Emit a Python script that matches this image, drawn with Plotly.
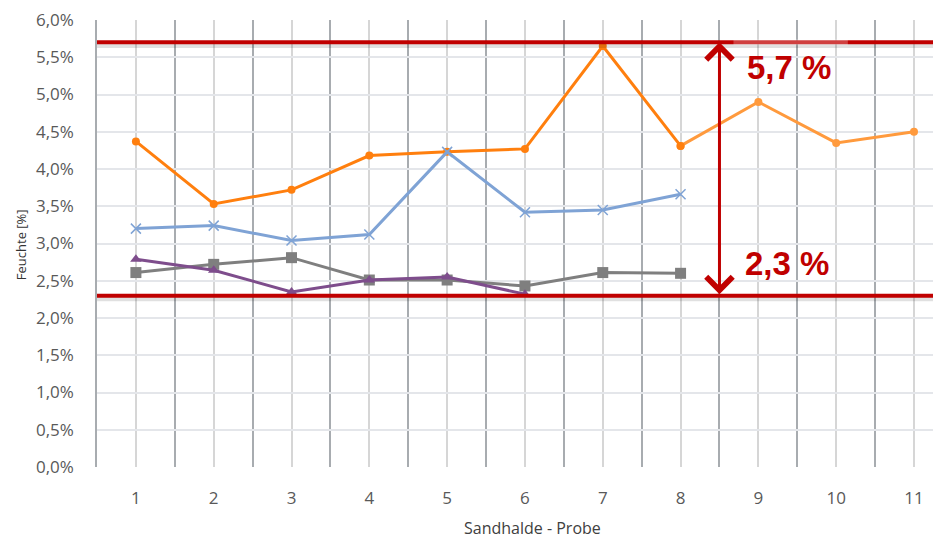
import plotly.graph_objects as go

# ---- data ----
proben = [1, 2, 3, 4, 5, 6, 7, 8, 9, 10, 11]
orange_x = [1, 2, 3, 4, 5, 6, 7, 8]
orange_y = [4.37, 3.53, 3.72, 4.18, 4.23, 4.27, 5.65, 4.31]
orange2_x = [8, 9, 10, 11]
orange2_y = [4.31, 4.90, 4.35, 4.50]
blue_x = [1, 2, 3, 4, 5, 6, 7, 8]
blue_y = [3.20, 3.24, 3.04, 3.12, 4.23, 3.42, 3.45, 3.66]
gray_x = [1, 2, 3, 4, 5, 6, 7, 8]
gray_y = [2.61, 2.72, 2.81, 2.51, 2.51, 2.43, 2.61, 2.60]
purple_x = [1, 2, 3, 4, 5, 6]
purple_y = [2.79, 2.64, 2.35, 2.51, 2.55, 2.32]
max_val = 5.7
min_val = 2.3
max_label = "5,7 %"
min_label = "2,3 %"
arrow_x = 8.5
y_ticks = [0, 0.5, 1, 1.5, 2, 2.5, 3, 3.5, 4, 4.5, 5, 5.5, 6]
y_ticktext = ["0,0%", "0,5%", "1,0%", "1,5%", "2,0%", "2,5%", "3,0%",
              "3,5%", "4,0%", "4,5%", "5,0%", "5,5%", "6,0%"]

RED = "#C00000"
FONT = "Open Sans"

fig = go.Figure()

fig.add_trace(go.Scatter(x=orange2_x, y=orange2_y, mode="lines+markers",
                         line=dict(color="#FF9A3D", width=3),
                         marker=dict(symbol="circle", size=8, color="#FF9A3D"),
                         showlegend=False))
fig.add_trace(go.Scatter(x=orange_x, y=orange_y, mode="lines+markers",
                         line=dict(color="#FF7F0E", width=3),
                         marker=dict(symbol="circle", size=8, color="#FF7F0E"),
                         showlegend=False))
fig.add_trace(go.Scatter(x=blue_x, y=blue_y, mode="lines+markers",
                         line=dict(color="#7FA3D5", width=3),
                         marker=dict(symbol="x-thin", size=10,
                                     line=dict(color="#7FA3D5", width=1.5)),
                         showlegend=False))
fig.add_trace(go.Scatter(x=gray_x, y=gray_y, mode="lines+markers",
                         line=dict(color="#7F7F7F", width=3),
                         marker=dict(symbol="square", size=11, color="#7F7F7F"),
                         showlegend=False))
fig.add_trace(go.Scatter(x=purple_x, y=purple_y, mode="lines+markers",
                         line=dict(color="#7E4D8C", width=3),
                         marker=dict(symbol="triangle-up", size=10, color="#7E4D8C"),
                         showlegend=False))

# red limit lines with soft shadow
for v in (max_val, min_val):
    fig.add_shape(type="line", xref="paper", x0=0, x1=1, yref="y", y0=v - 0.035, y1=v - 0.035,
                  line=dict(color="rgba(0,0,0,0.12)", width=6), layer="above")
    fig.add_shape(type="line", xref="paper", x0=0, x1=1, yref="y", y0=v, y1=v,
                  line=dict(color=RED, width=4), layer="above")

# light overlay on top line (text box)
fig.add_shape(type="rect", xref="x", x0=8.68, x1=10.15, yref="y", y0=max_val - 0.04, y1=max_val + 0.04,
              fillcolor="rgba(255,255,255,0.25)", line=dict(width=0), layer="above")

# double arrow
fig.add_annotation(x=arrow_x, y=max_val, ax=arrow_x, ay=min_val, xref="x", yref="y",
                   axref="x", ayref="y", text="", showarrow=True,
                   arrowhead=4, startarrowhead=4, arrowside="end+start",
                   arrowsize=1.7, startarrowsize=1.7, arrowwidth=3, arrowcolor=RED,
                   standoff=0, startstandoff=0)

fig.add_annotation(x=9.39, y=5.36, xref="x", yref="y", text="<b>" + max_label + "</b>",
                   showarrow=False, font=dict(family="Liberation Sans", size=33, color=RED))
fig.add_annotation(x=9.37, y=2.73, xref="x", yref="y", text="<b>" + min_label + "</b>",
                   showarrow=False, font=dict(family="Liberation Sans", size=33, color=RED))

# axis titles
fig.add_annotation(x=-0.089, y=0.498, xref="paper", yref="paper", text="Feuchte [%]",
                   xanchor="center", yanchor="middle",
                   textangle=-90, showarrow=False, font=dict(family=FONT, size=13, color="#333333"))
fig.add_annotation(x=0.515, y=-0.137, xref="paper", yref="paper", text="Sandhalde - Probe",
                   xanchor="center", yanchor="middle",
                   showarrow=False, font=dict(family=FONT, size=16, color="#404040"))

fig.update_layout(
    width=941, height=540,
    margin=dict(l=89, r=7, t=12, b=81),
    paper_bgcolor="white", plot_bgcolor="white",
    font=dict(family=FONT, color="#595959"),
    xaxis=dict(range=[0.5, 11.36], tickmode="array", tickvals=proben,
               ticktext=[str(p) for p in proben], automargin=False,
               showgrid=True, gridcolor="#D6D6D6", gridwidth=1.5,
               minor=dict(tick0=0.5, dtick=1, showgrid=True, gridcolor="#A8ACB0", gridwidth=1.5),
               showline=False, zeroline=False, ticks="",
               ticklabelstandoff=19, ticklabeloverflow="allow",
               tickfont=dict(family=FONT, size=17, color="#595959")),
    yaxis=dict(range=[0, 6], tickmode="array", tickvals=y_ticks, ticktext=y_ticktext,
               automargin=False, ticklabeloverflow="allow",
               showgrid=True, gridcolor="#E4E6EA", gridwidth=1.5,
               showline=True, linecolor="#A8ACB0", linewidth=1.5,
               zeroline=False, ticks="", ticklabelstandoff=18,
               tickfont=dict(family=FONT, size=17, color="#595959")),
)

fig.write_html("out.html")
